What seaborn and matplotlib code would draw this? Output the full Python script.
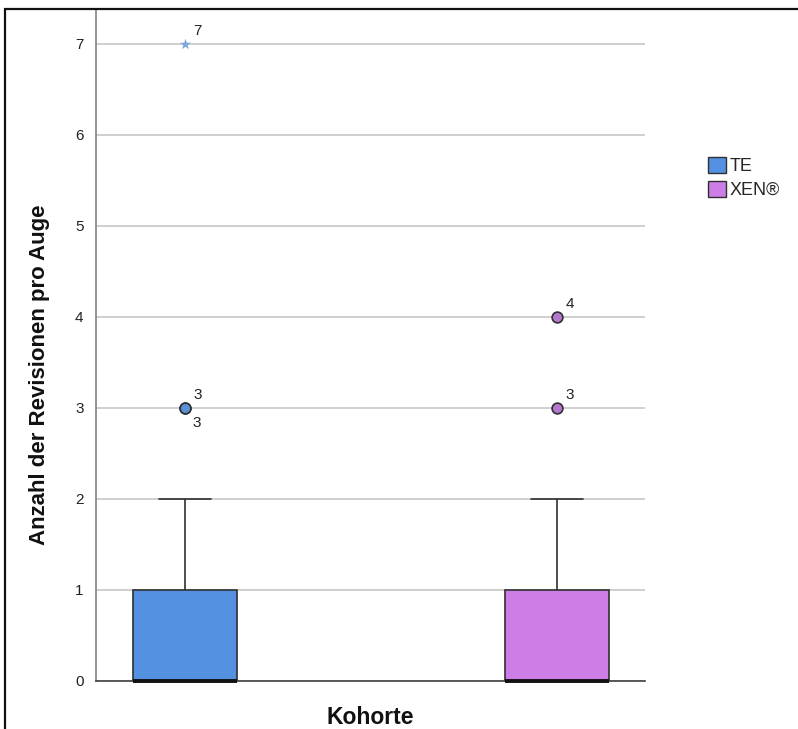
import numpy as np
import pandas as pd
import matplotlib
matplotlib.use("Agg")
import matplotlib.pyplot as plt
from matplotlib.patches import Patch, Rectangle
import seaborn as sns

# ---- data ----
cohorts = ["TE", "XEN®"]
revision_levels = [0, 1, 2, 3, 4, 7]
te_counts = [20, 10, 4, 2, 0, 1]
xen_counts = [18, 9, 4, 1, 1, 0]
te_case_labels = ["3", "3", "7"]      # case labels of outliers (sorted by value)
xen_case_labels = ["3", "4"]
yticks = [0, 1, 2, 3, 4, 5, 6, 7]

colors = {"TE": "#5491e1", "XEN®": "#cc7de6"}
flier_face = {"TE": "#5b8fd8", "XEN®": "#b377cf"}

rows = []
for c, counts in zip(cohorts, [te_counts, xen_counts]):
    for v, n in zip(revision_levels, counts):
        rows += [(c, v)] * n
df = pd.DataFrame(rows, columns=["Kohorte", "Revisionen"])

sns.set_style("white")
plt.rcParams["font.family"] = ["Liberation Sans", "DejaVu Sans"]

fig = plt.figure(figsize=(7.98, 7.29), dpi=100)
ax = fig.add_axes([96 / 798, 1 - 681 / 729, (645 - 96) / 798, (681 - 10) / 729])

sns.boxplot(data=df, x="Kohorte", y="Revisionen", hue="Kohorte", order=cohorts,
            hue_order=cohorts, palette=colors, saturation=1, width=0.28, whis=1.5,
            showfliers=False, linecolor="#303030", linewidth=1.2,
            medianprops=dict(linewidth=2.8, color="#111111", zorder=5),
            legend=False, ax=ax)
for art in list(ax.patches) + list(ax.lines):
    art.set_clip_on(False)

# outliers and extremes (SPSS style)
for i, (c, labs) in enumerate(zip(cohorts, [te_case_labels, xen_case_labels])):
    vals = np.sort(df.loc[df.Kohorte == c, "Revisionen"].to_numpy())
    q1, q3 = np.percentile(vals, [25, 75])
    iqr = q3 - q1
    outs = vals[vals > q3 + 1.5 * iqr]
    seen = {}
    for v, lab in zip(outs, labs):
        if v > q3 + 3 * iqr:
            ax.scatter([i], [v], marker="*", s=70, color="#7aa6de", zorder=4, linewidths=0)
        else:
            ax.scatter([i], [v], marker="o", s=60, facecolor=flier_face[c],
                       edgecolor="#303030", linewidths=1.2, zorder=4)
        k = seen.get(v, 0)
        seen[v] = k + 1
        if k == 0:
            ax.annotate(lab, (i, v), xytext=(6, 4), textcoords="offset points",
                        fontsize=11, color="#222222", ha="left", va="bottom")
        else:
            ax.annotate(lab, (i, v), xytext=(5, -6), textcoords="offset points",
                        fontsize=11, color="#222222", ha="left", va="top")

ax.set_xlim(-0.24, 1.236)
ax.set_ylim(0, 7.37)
ax.set_yticks(yticks)
ax.set_yticklabels([str(t) for t in yticks], fontsize=11, color="#222222")
ax.set_xticks([])
ax.tick_params(axis="y", length=0, pad=9)
ax.yaxis.grid(True, color="#cfcfcf", linewidth=1.4)
ax.set_axisbelow(True)
for s in ["top", "right"]:
    ax.spines[s].set_visible(False)
ax.spines["left"].set_color("#808080")
ax.spines["left"].set_linewidth(1.2)
ax.spines["bottom"].set_color("#404040")
ax.spines["bottom"].set_linewidth(1.2)

ax.set_xlabel("Kohorte", fontsize=16.5, fontweight="bold", color="#111111")
ax.xaxis.set_label_coords(0.5, (681 - 717) / 671)
ax.xaxis.label.set_va("center")
ax.set_ylabel("Anzahl der Revisionen pro Auge", fontsize=16, color="#111111",
              family=["Liberation Sans Narrow", "Liberation Sans"], fontweight="bold")
ax.yaxis.set_label_coords((40 - 96) / 549, (681 - 375) / 671)
ax.yaxis.label.set_va("center")

handles = [Patch(facecolor=colors[c], edgecolor="#303030", linewidth=1.0, label=c) for c in cohorts]
fig.legend(handles=handles, loc="upper left", bbox_to_anchor=(701 / 798, 1 - 150 / 729),
           frameon=False, fontsize=13, handlelength=1.0, handleheight=1.0,
           handletextpad=0.2, labelspacing=0.28, borderaxespad=0)

fig.patches.append(Rectangle((5 / 798, -0.1), 1.2, 0.1 + 1 - 9 / 729, transform=fig.transFigure,
                             fill=False, edgecolor="#111111", linewidth=1.6, clip_on=False))

fig.savefig("out.png", dpi=100)
